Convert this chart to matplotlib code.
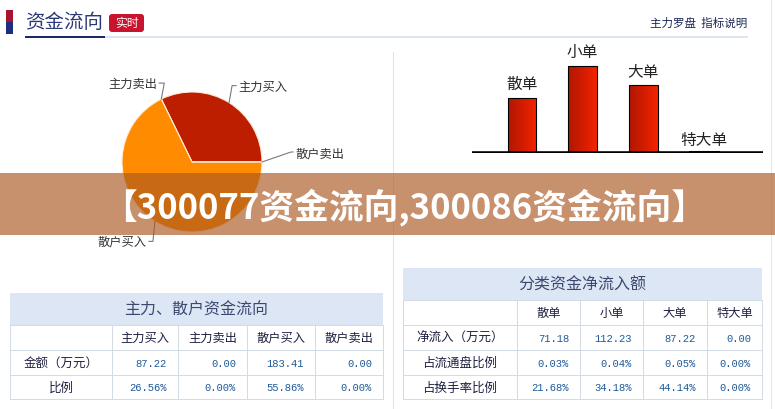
import matplotlib
matplotlib.use("Agg")
import matplotlib.pyplot as plt
import numpy as np
from matplotlib.patches import Rectangle, FancyBboxPatch
from matplotlib.colors import LinearSegmentedColormap

plt.rcParams['font.family'] = ['Noto Sans CJK SC', 'DejaVu Sans']

# ---------------- data ----------------
title_text = "资金流向"
badge_text = "实时"
links_text = "主力罗盘  指标说明"
banner_text = "【300077资金流向,300086资金流向】"

pie_labels = ["主力买入", "主力卖出", "散户买入", "散户卖出"]
left_amount = [87.22, 0.00, 183.41, 0.00]
left_ratio = [26.56, 0.00, 55.86, 0.00]
left_title = "主力、散户资金流向"
left_rows = ["金额（万元）", "比例"]

bar_labels = ["散单", "小单", "大单", "特大单"]
right_net = [71.18, 112.23, 87.22, 0.00]
right_float = [0.03, 0.04, 0.05, 0.00]
right_turn = [21.68, 34.18, 44.14, 0.00]
right_title = "分类资金净流入额"
right_rows = ["净流入（万元）", "占流通盘比例", "占换手率比例"]

W, H = 775, 410
fig = plt.figure(figsize=(W / 100, H / 100), dpi=100)
fig.patch.set_facecolor("white")

PX = 0.72  # points per pixel

# ---------------- background axes (pixel coords) ----------------
bg = fig.add_axes([0, 0, 1, 1])
bg.set_xlim(0, W)
bg.set_ylim(H, 0)
bg.axis("off")
bg.set_zorder(0)

# header
bg.add_patch(Rectangle((6, 11), 7, 12, color="#A8142C", lw=0))
bg.add_patch(Rectangle((6, 23), 7, 12, color="#1C2E7E", lw=0))
bg.text(25, 22.5, title_text, fontsize=14, color="#2B3876", ha="left", va="center")
bg.plot([105, 748], [37.5, 37.5], color="#DCE4EE", lw=2 * PX, solid_capstyle="butt")
bg.plot([25, 105], [37.5, 37.5], color="#1A2A66", lw=2 * PX, solid_capstyle="butt")
bg.add_patch(FancyBboxPatch((109, 15), 35, 18, boxstyle="round,pad=0,rounding_size=3",
                            fc="#C8142E", ec="none"))
bg.text(126.5, 24, badge_text, fontsize=8.5, color="white", ha="center", va="center")
bg.text(747, 23, links_text, fontsize=8.3, color="#1B2858", ha="right", va="center")

# dividers
bg.plot([393, 393], [53, 410], color="#DDE3EA", lw=1 * PX)
bg.plot([771, 771], [0, 410], color="#E4E6EA", lw=1 * PX)

# ---------------- tables ----------------
border = "#D3DBE5"
head_bg = "#DCE6F4"
num_color = "#1F5A98"
txt_color = "#1E2040"


def draw_table(xe, title_y, ye, title, col_labels, row_labels, rows_vals, fmt_list):
    x0, x1 = xe[0], xe[-1]
    bg.add_patch(Rectangle((x0, title_y[0]), x1 - x0, title_y[1] - title_y[0],
                           fc=head_bg, ec="none"))
    bg.text((x0 + x1) / 2, (title_y[0] + title_y[1]) / 2, title, fontsize=11.5,
            color="#3A4870", ha="center", va="center")
    for y in ye:
        bg.plot([x0, x1], [y, y], color=border, lw=1 * PX)
    for x in xe:
        bg.plot([x, x], [ye[0], ye[-1]], color=border, lw=1 * PX)
    for i, lab in enumerate(col_labels):
        cx = (xe[i + 1] + xe[i + 2]) / 2
        bg.text(cx, (ye[0] + ye[1]) / 2, lab, fontsize=8.8, color=txt_color,
                ha="center", va="center")
    for r, (lab, vals, fmt) in enumerate(zip(row_labels, rows_vals, fmt_list)):
        cy = (ye[r + 1] + ye[r + 2]) / 2
        bg.text((xe[0] + xe[1]) / 2, cy, lab, fontsize=9, color=txt_color,
                ha="center", va="center")
        for i, v in enumerate(vals):
            bg.text(xe[i + 2] - 11, cy + 0.5, fmt.format(v), fontsize=7.6,
                    family="Liberation Mono", color=num_color, ha="right", va="center")


draw_table([10, 112, 178, 247, 315, 383], (294, 326), [326, 351, 376, 400],
           left_title, pie_labels, left_rows, [left_amount, left_ratio],
           ["{:.2f}", "{:.2f}%"])
draw_table([403, 517, 580, 643, 707, 762], (269, 301), [301, 326, 351, 376, 400],
           right_title, bar_labels, right_rows, [right_net, right_float, right_turn],
           ["{:.2f}", "{:.2f}%", "{:.2f}%"])

# ---------------- pie ----------------
cx, cy, R = 192, 163, 70
pax = fig.add_axes([(cx - R) / W, (H - cy - R) / H, 2 * R / W, 2 * R / H])
pax.set_zorder(1)
wedges, _ = pax.pie(left_amount, colors=["#BE1E00", "#FF8C00", "#FF8C00", "#BE1E00"],
                    startangle=0, counterclock=True, radius=1,
                    wedgeprops={"edgecolor": "#FFEBD6", "linewidth": 0.8})
pax.set_xlim(-1, 1)
pax.set_ylim(-1, 1)
pax.axis("off")

s = 1.0 / R  # data units per pixel
label_geo = [
    ((3, 17), (7, 17), (9, 16), "left"),
    ((3, 16), (-2, 16), (-4, 16), "right"),
    ((-2, -20), (-6, -20), (-8, -20), "right"),
    ((29, 10), (31, 10), (33, 9), "left"),
]
for w, lab, (el, en, tx, ha) in zip(wedges, pie_labels, label_geo):
    ang = np.deg2rad((w.theta1 + w.theta2) / 2)
    ax_, ay_ = np.cos(ang), np.sin(ang)
    pax.plot([ax_, ax_ + el[0] * s, ax_ + en[0] * s],
             [ay_, ay_ + el[1] * s, ay_ + en[1] * s],
             color="#7A7A7A", lw=0.8, clip_on=False)
    pax.text(ax_ + tx[0] * s, ay_ + tx[1] * s, lab, fontsize=8.8, color="#333333",
             ha=ha, va="center", clip_on=False)

# ---------------- bars ----------------
bx0, bx1, btop, bbase = 472, 763, 40, 154
bax = fig.add_axes([bx0 / W, (H - bbase) / H, (bx1 - bx0) / W, (bbase - btop) / H])
bax.set_zorder(1)
bax.patch.set_alpha(0)
xpos = np.arange(len(right_net))
bars = bax.bar(xpos, right_net, width=0.47, facecolor="none", edgecolor="black",
               linewidth=0.8, zorder=5)
cmap = LinearSegmentedColormap.from_list("g", ["#AE1800", "#D21C00", "#F42400"])
grad = np.linspace(0, 1, 64).reshape(1, -1)
for rect in bars:
    h = rect.get_height()
    if h > 0:
        x = rect.get_x()
        wd = rect.get_width()
        im = bax.imshow(grad, extent=[x, x + wd, 0, h], aspect="auto", cmap=cmap,
                        zorder=2, interpolation="bilinear")
        im.set_clip_path(rect)
    else:
        rect.set_linewidth(2.2)
        rect.set_height(1.5)
        rect.set_facecolor("black")
for x, v, lab in zip(xpos, right_net, bar_labels):
    bax.annotate(lab, (x, v), xytext=(0, 14), textcoords="offset pixels",
                 ha="center", va="center", fontsize=11.3, color="#222222",
                 annotation_clip=False)
bax.axhline(0, color="black", lw=3.6 * PX, zorder=4)
bax.set_xlim(-0.824, 3.97)
bax.set_ylim(0, 147)
bax.axis("off")

# ---------------- banner overlay ----------------
ov = fig.add_axes([0, 0, 1, 1])
ov.set_zorder(10)
ov.patch.set_alpha(0)
ov.set_xlim(0, W)
ov.set_ylim(H, 0)
ov.axis("off")
ov.add_patch(Rectangle((0, 174), W, 62, fc=(171 / 255, 87 / 255, 32 / 255), alpha=0.65, lw=0))
ov.text(404, 207, banner_text, fontsize=25, fontweight="heavy", color="white",
        ha="center", va="center")

fig.savefig("out.png", dpi=100)
